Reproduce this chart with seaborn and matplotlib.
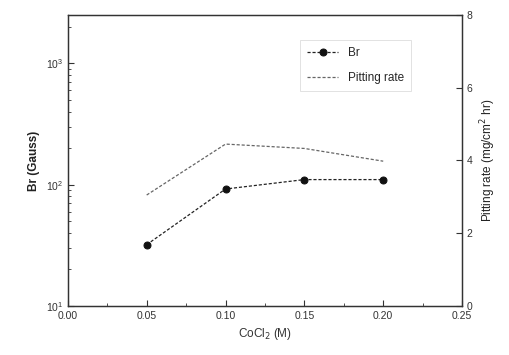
import matplotlib
matplotlib.use("Agg")
import matplotlib.pyplot as plt
from matplotlib.ticker import MultipleLocator, LogLocator, NullFormatter
import seaborn as sns
import pandas as pd

conc = [0.05, 0.10, 0.15, 0.20]
br = [32, 92, 110, 110]
pitting = [3.05, 4.45, 4.33, 3.98]
x_ticks = [0.00, 0.05, 0.10, 0.15, 0.20, 0.25]
x_labels = ["0.00", "0.05", "0.10", "0.15", "0.20", "0.25"]
r_ticks = [0, 2, 4, 6, 8]

sns.set_style("ticks")
plt.rcParams['font.family'] = ['Liberation Sans', 'DejaVu Sans']

df_br = pd.DataFrame({"conc": conc, "br": br})
df_pr = pd.DataFrame({"conc": conc, "pitting": pitting})

fig = plt.figure(figsize=(5.1, 3.55), dpi=100)
ax = fig.add_axes([0.133, 0.138, 0.773, 0.82])
ax2 = ax.twinx()

sns.lineplot(data=df_br, x="conc", y="br", ax=ax, color="#222222",
             linestyle=(0, (2.5, 1.5)), linewidth=0.9, marker="o",
             markersize=5, markeredgecolor="#111111", markerfacecolor="#111111",
             label="Br", legend=False)
sns.lineplot(data=df_pr, x="conc", y="pitting", ax=ax2, color="#666666",
             linestyle=(0, (2.5, 1.5)), linewidth=0.9,
             label="Pitting rate", legend=False)

ax.set_yscale("log")
ax.set_ylim(10, 2500)
ax.set_xlim(0, 0.25)
ax.set_xticks(x_ticks)
ax.set_xticklabels(x_labels)
ax.xaxis.set_minor_locator(MultipleLocator(0.025))
ax.yaxis.set_major_locator(LogLocator(base=10, numticks=10))
ax.yaxis.set_minor_locator(LogLocator(base=10, subs=range(2, 10), numticks=10))
ax.yaxis.set_minor_formatter(NullFormatter())
ax2.set_ylim(0, 8)
ax2.set_yticks(r_ticks)

ax.set_xlabel("CoCl$_2$ (M)", fontsize=8.5, color="#333333")
ax.set_ylabel("Br (Gauss)", fontsize=8.5, fontweight="bold", color="#222222")
ax2.set_ylabel("Pitting rate (mg/cm$^2$ hr)", fontsize=8.5, color="#222222")

for a in (ax, ax2):
    a.tick_params(which="both", direction="in", labelsize=7.5, colors="#333333")
    a.tick_params(which="major", length=4)
    a.tick_params(which="minor", length=2)
    for s in a.spines.values():
        s.set_linestyle((0, (2, 1)))
        s.set_linewidth(0.9)
        s.set_color("#333333")

h1, l1 = ax.get_legend_handles_labels()
h2, l2 = ax2.get_legend_handles_labels()
leg = ax.legend(h1 + h2, l1 + l2, loc="upper left", bbox_to_anchor=(0.575, 0.935),
                frameon=True, fancybox=False, fontsize=8.5, handlelength=2.6,
                labelspacing=1.1, borderpad=0.6)
leg.get_frame().set_edgecolor("#cccccc")
leg.get_frame().set_linewidth(0.5)

fig.savefig("out.png", dpi=100)
